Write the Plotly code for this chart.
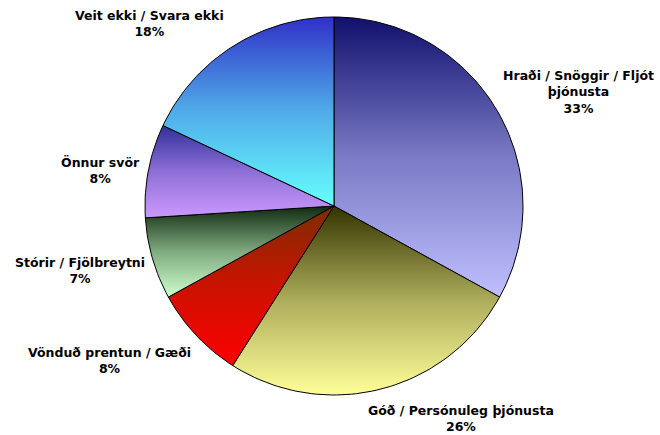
import math
import plotly.graph_objects as go

labels = ["Hraði / Snöggir / Fljót<br>þjónusta", "Góð / Persónuleg þjónusta",
          "Vönduð prentun / Gæði", "Stórir / Fjölbreytni", "Önnur svör",
          "Veit ekki / Svara ekki"]
values = [33, 26, 8, 7, 8, 18]

# each slice is shaded from a dark top to a light bottom
top_colors = ["#10106e", "#333300", "#7a2e00", "#0f2a0f", "#30309a", "#3030c8"]
bottom_colors = ["#c0c0ff", "#ffff99", "#ff0000", "#ccffcc", "#cc99ff", "#66ffff"]

# label text centres, in pie radii from the centre
label_x = [1.296, 0.672, -1.190, -1.344, -1.233, -0.974]
label_y = [0.603, -1.122, -0.820, -0.339, 0.190, 0.968]


def mix(c_a, c_b, t):
    a = [int(c_a[i:i + 2], 16) for i in (1, 3, 5)]
    b = [int(c_b[i:i + 2], 16) for i in (1, 3, 5)]
    return "#%02x%02x%02x" % tuple(round(a[i] + (b[i] - a[i]) * t) for i in range(3))


total = sum(values)
fig = go.Figure()

start = 0.0
for lab, v, c0, c1 in zip(labels, values, top_colors, bottom_colors):
    a0 = start / total * 2 * math.pi
    a1 = (start + v) / total * 2 * math.pi
    n = max(8, int(240 * v / total))
    xs = [0.0]
    ys = [0.0]
    for k in range(n + 1):
        a = a0 + (a1 - a0) * k / n
        xs.append(math.sin(a))
        ys.append(math.cos(a))
    xs.append(0.0)
    ys.append(0.0)
    fig.add_trace(go.Scatter(
        x=xs, y=ys, mode="lines", fill="toself",
        line=dict(color="black", width=1),
        fillgradient=dict(type="vertical",
                          colorscale=[[0, c1], [0.5, mix(c0, c1, 0.6)], [1, c0]]),
        hoverinfo="skip", name=lab.replace("<br>", " "),
    ))
    start += v

for lab, v, lx, ly in zip(labels, values, label_x, label_y):
    fig.add_annotation(
        x=lx, y=ly, xref="x", yref="y", showarrow=False,
        text="<b>%s<br>%d%%</b>" % (lab, v), align="center",
        font=dict(family="DejaVu Sans", size=12.5, color="black"),
    )

R = 189.0
cx, cy = 334.0, 206.0
fig.update_layout(
    width=660, height=435,
    margin=dict(l=0, r=0, t=0, b=0),
    showlegend=False,
    paper_bgcolor="white", plot_bgcolor="white",
    xaxis=dict(visible=False, range=[-cx / R, (660 - cx) / R]),
    yaxis=dict(visible=False, range=[-(435 - cy) / R, cy / R]),
)

fig.write_html("out.html", config={"displayModeBar": False},
               post_script="document.body.style.margin='0';")
